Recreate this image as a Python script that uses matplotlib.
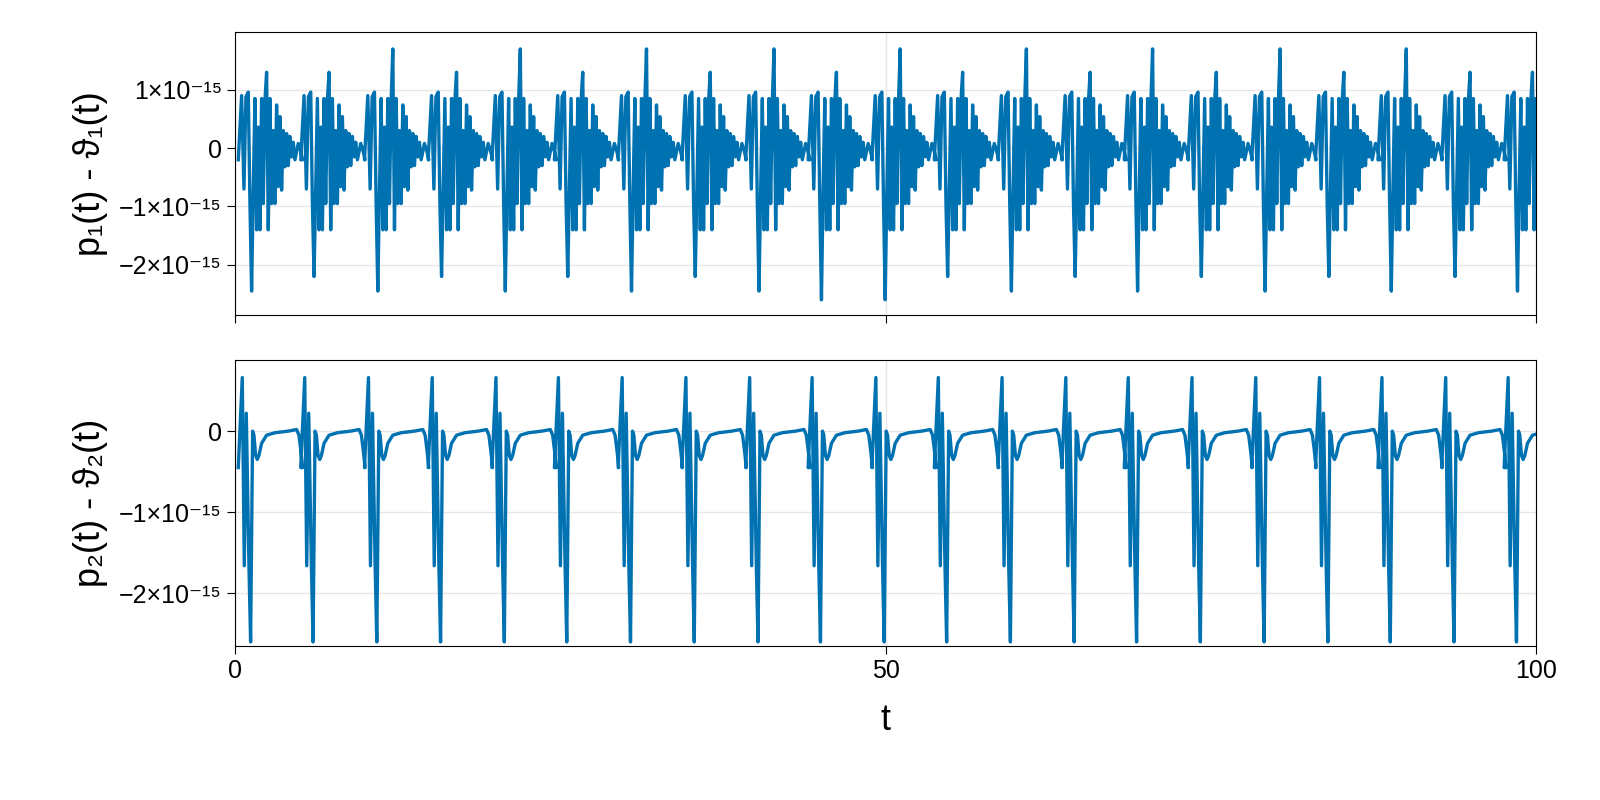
import numpy as np
import matplotlib
matplotlib.use("Agg")
import matplotlib.pyplot as plt

plt.rcParams['font.family'] = ['Liberation Sans', 'DejaVu Sans']

# spike times (t units)
spike_t = [1.2, 6.0, 10.9, 15.8, 20.7, 25.5, 30.4, 35.3, 40.2, 45.0, 49.9, 54.7,
           59.6, 64.5, 69.3, 74.2, 79.1, 84.0, 88.8, 93.7, 98.5]
# per-cycle extremes of the top panel (units of 1e-15)
top_up = [1.3, 1.3, 1.7, 1.3, 1.7, 1.3, 1.7, 1.3, 1.7, 1.3, 1.7, 1.3,
          1.7, 1.3, 1.7, 1.3, 1.7, 1.3, 1.7, 1.3, 1.3]
top_down = [-2.45, -2.2, -2.45, -2.2, -2.45, -2.2, -2.45, -2.2, -2.45, -2.6, -2.6, -2.2,
            -2.45, -2.2, -2.45, -2.2, -2.45, -2.2, -2.45, -2.2, -2.45]

# one-cycle shape of the top panel: (offset in zoom px, value 1e-15)
top_dx = [0, 10, 17, 23, 30, 35, 40, 45, 50, 55, 60, 65, 70, 75, 80, 85, 90, 95, 100,
          105, 110, 115, 120, 125, 130, 135, 140, 145, 150, 155, 160, 165, 170, 180, 187, 193]
top_v = [-0.2, 0.9, -0.7, 0.88, 0.96, -0.95, -2.5, -0.7, 0.85, -1.4, 0.36, -1.4, 0.85,
         -0.95, 0.82, 1.3, -1.4, 0.85, -0.95, 0.3, -0.95, 0.74, -0.66, 0.54, -0.72,
         0.3, -0.32, 0.25, -0.3, 0.2, -0.15, 0.1, -0.2, 0.08, -0.05, -0.2]
# one-cycle shape of the bottom panel
bot_dx = [0, 5, 12, 18, 24, 32, 37, 43, 47, 52, 57, 62, 70, 85, 110, 150, 175, 182, 188, 193]
bot_v = [-0.45, 0.0, 0.66, -1.66, 0.22, -1.66, -2.6, 0.0, -0.05, -0.3, -0.35, -0.3,
         -0.15, -0.05, -0.02, 0.0, 0.02, -0.05, -0.25, -0.45]

def build(dx, v, up=None, down=None):
    ts, ys = [], []
    for k, st in enumerate(spike_t):
        start = st - 37 / 39.03
        vv = list(v)
        if up is not None:
            i_up = int(np.argmax(vv)); vv[i_up] = up[k]
            i_dn = int(np.argmin(vv)); vv[i_dn] = down[k]
        for d, y in zip(dx, vv):
            ts.append(start + d / 39.03)
            ys.append(y * 1e-15)
    return np.array(ts), np.array(ys)

t1, y1 = build(top_dx, top_v, top_up, top_down)
t2, y2 = build(bot_dx, bot_v)

fig = plt.figure(figsize=(16, 8), dpi=100)
ax1 = fig.add_axes([235/1600, 1-315/800, 1301/1600, 283/800])
ax2 = fig.add_axes([235/1600, 1-646/800, 1301/1600, 286/800])
col = '#0072B2'
for ax, t, y in [(ax1, t1, y1), (ax2, t2, y2)]:
    ax.plot(t, y, color=col, lw=2.4)
    ax.set_xlim(0, 100)
    ax.set_xticks([0, 50, 100])
    ax.grid(True, color='#e6e6e6', lw=1)
    ax.set_axisbelow(True)
    ax.tick_params(direction='out', length=6, labelsize=18)
ax1.set_ylim(-2.86e-15, 1.99e-15)
ax2.set_ylim(-2.65e-15, 0.877e-15)
ax1.set_yticks([1e-15, 0, -1e-15, -2e-15])
ax1.set_yticklabels(['1×10⁻¹⁵', '0', '−1×10⁻¹⁵', '−2×10⁻¹⁵'])
ax2.set_yticks([0, -1e-15, -2e-15])
ax2.set_yticklabels(['0', '−1×10⁻¹⁵', '−2×10⁻¹⁵'])
ax1.set_xticklabels([])
ax2.set_xticklabels(['0', '50', '100'])
ax1.set_ylabel('p₁(t) - ϑ₁(t)', fontsize=26, labelpad=8)
ax2.set_ylabel('p₂(t) - ϑ₂(t)', fontsize=26, labelpad=8)
ax2.set_xlabel('t', fontsize=26, labelpad=14)
fig.savefig('out.png', dpi=100)
